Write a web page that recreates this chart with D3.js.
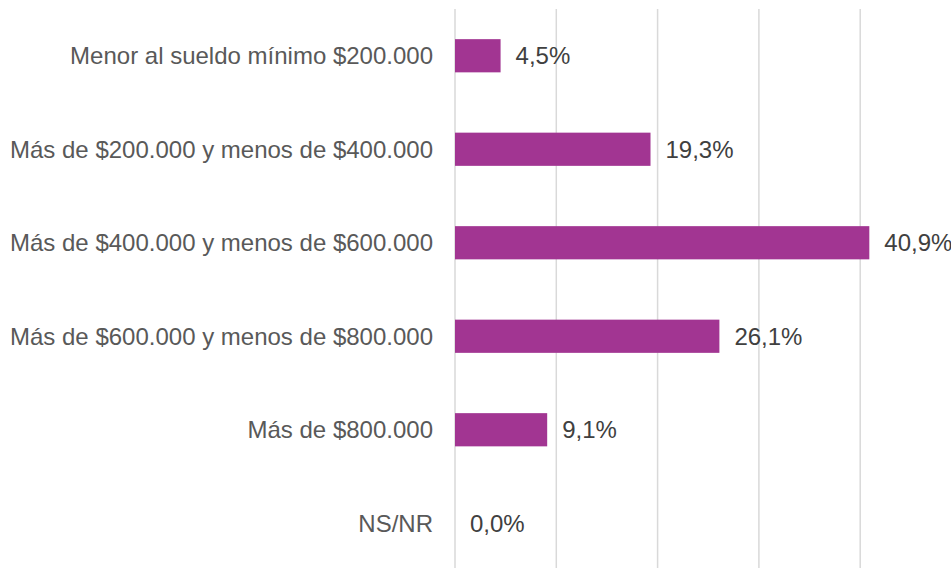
<!DOCTYPE html>
<html>
<head>
<meta charset="utf-8">
<script src="https://cdn.jsdelivr.net/npm/d3@7"></script>
<style>
  body { margin: 0; background: #fff; }
  svg { display: block; font-family: "Liberation Sans", Arial, sans-serif; }
</style>
</head>
<body>
<svg width="951" height="568"></svg>
<script>
const categories = [
  "Menor al sueldo mínimo $200.000",
  "Más de $200.000 y menos de $400.000",
  "Más de $400.000 y menos de $600.000",
  "Más de $600.000 y menos de $800.000",
  "Más de $800.000",
  "NS/NR"
];
const values = [4.5, 19.3, 40.9, 26.1, 9.1, 0.0];
const gridTicks = [0, 10, 20, 30, 40, 50];

const svg = d3.select("svg"),
    margin = {top: 9, left: 455}
const plotW = 506.5, plotH = 561

const x = d3.scaleLinear().domain([0, 50]).range([0, plotW])
const y = d3.scaleBand().domain(categories).range([0, plotH]).paddingInner(0.645).paddingOuter(0.3225)

const g = svg.append("g")
  .attr("transform", "translate(" + margin.left + "," + margin.top + ")")

// vertical gridlines
g.selectAll(".grid").data(gridTicks).enter().append("line")
  .attr("class", "grid")
  .attr("x1", d => x(d)).attr("x2", d => x(d))
  .attr("y1", 0).attr("y2", plotH)
  .attr("stroke", "#d9d9d9")
  .attr("stroke-width", 1.5)

// bars
const data = categories.map((c, i) => ({cat: c, value: values[i]}))

g.selectAll(".bar").data(data).enter().append("rect")
  .attr("class", "bar")
  .attr("x", 0)
  .attr("y", d => y(d.cat))
  .attr("width", d => x(d.value))
  .attr("height", y.bandwidth())
  .attr("fill", "#a23592")

// value labels
g.selectAll(".val").data(data).enter().append("text")
  .attr("class", "val")
  .attr("x", d => x(d.value) + 15)
  .attr("y", d => y(d.cat) + y.bandwidth() / 2)
  .attr("dy", "0.35em")
  .attr("font-size", 24)
  .attr("fill", "#404040")
  .text(d => d.value.toFixed(1).replace(".", ",") + "%")

// category labels
g.selectAll(".cat").data(data).enter().append("text")
  .attr("class", "cat")
  .attr("x", -22)
  .attr("y", d => y(d.cat) + y.bandwidth() / 2)
  .attr("dy", "0.35em")
  .attr("text-anchor", "end")
  .attr("font-size", 24)
  .attr("fill", "#595959")
  .text(d => d.cat)
</script>
</body>
</html>
